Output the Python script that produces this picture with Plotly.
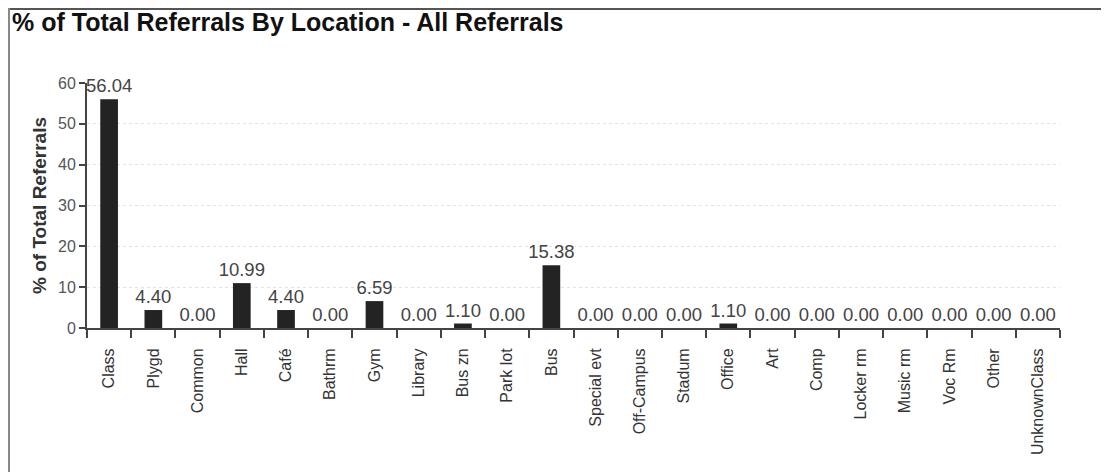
import plotly.graph_objects as go

# Categories and values
locations = ["Class", "Plygd", "Common", "Hall", "Café", "Bathrm", "Gym", "Library",
             "Bus zn", "Park lot", "Bus", "Special evt", "Off-Campus", "Stadum",
             "Office", "Art", "Comp", "Locker rm", "Music rm", "Voc Rm", "Other",
             "UnknownClass"]
pct_referrals = [56.04, 4.40, 0.00, 10.99, 4.40, 0.00, 6.59, 0.00,
                 1.10, 0.00, 15.38, 0.00, 0.00, 0.00,
                 1.10, 0.00, 0.00, 0.00, 0.00, 0.00, 0.00,
                 0.00]
y_ticks = [0, 10, 20, 30, 40, 50, 60]

# page body adds an 8px margin, so the figure is a bit smaller than the window
W, H = 1101, 464
L, T, B = 79, 75, 144
plot_w = 973
plot_h = H - T - B

fig = go.Figure()

fig.add_trace(go.Bar(
    x=locations,
    y=pct_referrals,
    marker=dict(color="#232323", line=dict(width=0)),
    text=[f"{v:.2f}" for v in pct_referrals],
    textposition="outside",
    constraintext="none",
    textfont=dict(family="Liberation Sans, Arial", size=18.5, color="#444444"),
    cliponaxis=False,
    width=0.4,
))

fig.update_layout(
    width=W,
    height=H,
    paper_bgcolor="white",
    plot_bgcolor="white",
    showlegend=False,
    font=dict(family="Liberation Sans, Arial", color="#333333"),
    title=dict(
        text="<b>% of Total Referrals By Location - All Referrals</b>",
        x=4 / W, xanchor="left",
        y=1 - 14 / H, yanchor="middle",
        font=dict(size=25, color="#111111"),
    ),
    margin=dict(l=L, r=W - L - plot_w, t=T, b=B),
    xaxis=dict(
        type="category",
        tickangle=-90,
        tickson="boundaries",
        ticks="outside",
        ticklen=8,
        tickcolor="#444444",
        tickwidth=2,
        ticklabelstandoff=12,
        showline=True,
        linecolor="#444444",
        linewidth=2,
        showgrid=False,
        tickfont=dict(size=16, color="#333333"),
    ),
    yaxis=dict(
        range=[0, 60],
        tickvals=y_ticks,
        ticks="outside",
        ticklen=6,
        tickcolor="#444444",
        tickwidth=2,
        showline=True,
        linecolor="#444444",
        linewidth=2,
        showgrid=True,
        gridcolor="#e2e2e2",
        griddash="dot",
        gridwidth=1,
        zeroline=False,
        tickfont=dict(size=16, color="#555555"),
        title=dict(text="<b>% of Total Referrals</b>",
                   font=dict(size=19, color="#333333"), standoff=6),
    ),
    shapes=[
        # frame edges visible in the original screenshot
        dict(type="line", xref="paper", yref="paper",
             x0=-L / plot_w, x1=(W - L) / plot_w,
             y0=1 + T / plot_h, y1=1 + T / plot_h,
             line=dict(color="#555555", width=4)),
        dict(type="line", xref="paper", yref="paper",
             x0=(1 - L) / plot_w, x1=(1 - L) / plot_w,
             y0=-B / plot_h, y1=1 + T / plot_h,
             line=dict(color="#888888", width=2)),
    ],
)

fig.write_html("out.html")
